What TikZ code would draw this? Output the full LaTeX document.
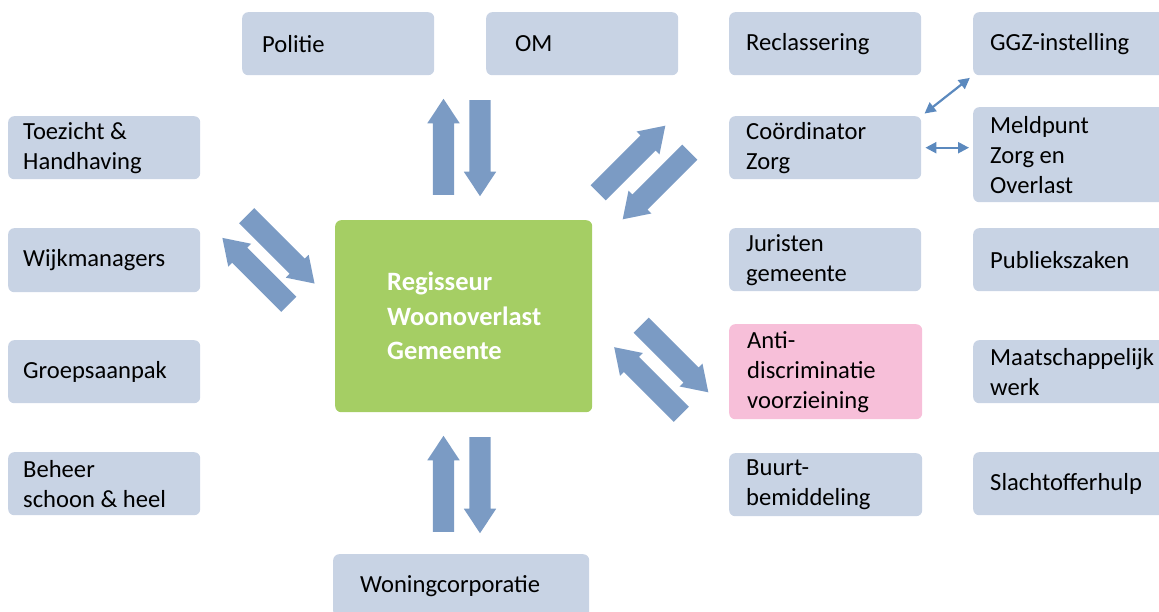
\documentclass[tikz,border=0pt]{standalone}
\usepackage{fontspec}
\setmainfont{Carlito}
\usetikzlibrary{shapes.arrows,arrows.meta}
\definecolor{boxblue}{HTML}{C8D3E4}
\definecolor{boxgreen}{HTML}{A5CE64}
\definecolor{boxpink}{HTML}{F7BFD9}
\definecolor{arrowblue}{HTML}{7B9BC4}
\definecolor{smallblue}{HTML}{5B89BE}
\begin{document}
\begin{tikzpicture}[x=1pt,y=-1pt,
  box/.style={fill=boxblue, rounded corners=6pt, anchor=north west, align=flush left,
    inner ysep=0pt, font=\fontsize{24.6}{30}\selectfont, text=black,
    execute at begin node={\spaceskip=0pt\xspaceskip=0pt}},
  blockarr/.style={single arrow, fill=arrowblue, draw=none, minimum width=32pt,
    single arrow head extend=5.5pt, single arrow tip angle=67, inner xsep=0pt,
    inner ysep=10.5pt, anchor=tail},
  smallarr/.style={draw=smallblue, line width=2.2pt,
    {Triangle[length=11pt,width=11pt]}-{Triangle[length=11pt,width=11pt]},
    shorten <=4pt, shorten >=4pt}]
\useasboundingbox (0,0) rectangle (1159,612);

% top row
\node[box, minimum width=192pt, minimum height=63pt, inner xsep=20pt, text width=152pt] (politie) at (242,12) {Politie};
\node[box, minimum width=192pt, minimum height=63pt, inner xsep=29pt, text width=134pt] (om) at (486,12) {OM};
\node[box, minimum width=192pt, minimum height=63pt, inner xsep=17pt, text width=158pt] (reclass) at (729,12) {Reclassering};
\node[box, minimum width=195pt, minimum height=63pt, inner xsep=17pt, text width=161pt] (ggz) at (973,12) {GGZ-instelling};

% left column
\node[box, minimum width=192pt, minimum height=63pt, inner xsep=15pt, text width=162pt] (toezicht) at (8,116) {Toezicht \&\\Handhaving};
\node[box, minimum width=192pt, minimum height=64pt, inner xsep=15pt, text width=162pt] (wijk) at (8,228) {Wijkmanagers};
\node[box, minimum width=192pt, minimum height=63pt, inner xsep=15pt, text width=162pt] (groep) at (8,340) {Groepsaanpak};
\node[box, minimum width=192pt, minimum height=63pt, inner xsep=15pt, text width=162pt] (beheer) at (8,452) {Beheer\\schoon \& heel};

% middle-right column
\node[box, minimum width=192pt, minimum height=63pt, inner xsep=17pt, text width=158pt] (coord) at (729,116) {Coördinator\\Zorg};
\node[box, minimum width=192pt, minimum height=63pt, inner xsep=17pt, text width=158pt] (juristen) at (729,228) {Juristen\\gemeente};
\node[box, fill=boxpink, minimum width=193pt, minimum height=95pt, inner xsep=18pt, text width=157pt] (anti) at (729,324) {Anti-\\discriminatie\\voorzieining};
\node[box, minimum width=193pt, minimum height=63pt, inner xsep=17pt, text width=159pt] (buurt) at (729,453) {Buurt-\\bemiddeling};

% right column
\node[box, minimum width=195pt, minimum height=95pt, inner xsep=17pt, text width=161pt] (meld) at (973,107) {Meldpunt\\Zorg en\\Overlast};
\node[box, minimum width=195pt, minimum height=63pt, inner xsep=17pt, text width=161pt] (publiek) at (973,228) {Publiekszaken};
\node[box, minimum width=195pt, minimum height=63pt, inner xsep=17pt, text width=161pt] (maatsch) at (973,340) {Maatschappelijk\\werk};
\node[box, minimum width=195pt, minimum height=63pt, inner xsep=17pt, text width=161pt] (slacht) at (973,452) {Slachtofferhulp};

% bottom
\node[box, minimum width=256pt, minimum height=63pt, inner xsep=27pt, text width=202pt] (woning) at (333,554) {Woningcorporatie};

% centre
\node[box, fill=boxgreen, text=white, minimum width=257pt, minimum height=192pt, inner xsep=52pt, text width=153pt,
  font=\fontsize{26.5}{34.5}\selectfont\bfseries] (regie) at (335,220) {Regisseur\\Woonoverlast\\Gemeente};

% block arrows
\node[blockarr, minimum height=96pt, rotate=90]   (aTopUp)   at (443.5,195) {};
\node[blockarr, minimum height=96pt, rotate=-90]  (aTopDn)   at (480,100) {};
\node[blockarr, minimum height=96pt, rotate=90]   (aBotUp)   at (443.5,532) {};
\node[blockarr, minimum height=96pt, rotate=-90]  (aBotDn)   at (480,437) {};
\node[blockarr, minimum height=95pt, rotate=45]   (aTRout)   at (598,193) {};
\node[blockarr, minimum height=95pt, rotate=-135] (aTRin)    at (690,152) {};
\node[blockarr, minimum height=96pt, rotate=-45]  (aLin)     at (246.5,215.5) {};
\node[blockarr, minimum height=94pt, rotate=135]  (aLout)    at (289,304.5) {};
\node[blockarr, minimum height=95pt, rotate=-45]  (aBRout)   at (641,325) {};
\node[blockarr, minimum height=95pt, rotate=135]  (aBRin)    at (681.5,414.5) {};

% small connectors
\draw[smallarr] (coord.north east) -- (ggz.south west);
\draw[smallarr] (coord.east) -- (coord.east -| meld.west);
\end{tikzpicture}
\end{document}
